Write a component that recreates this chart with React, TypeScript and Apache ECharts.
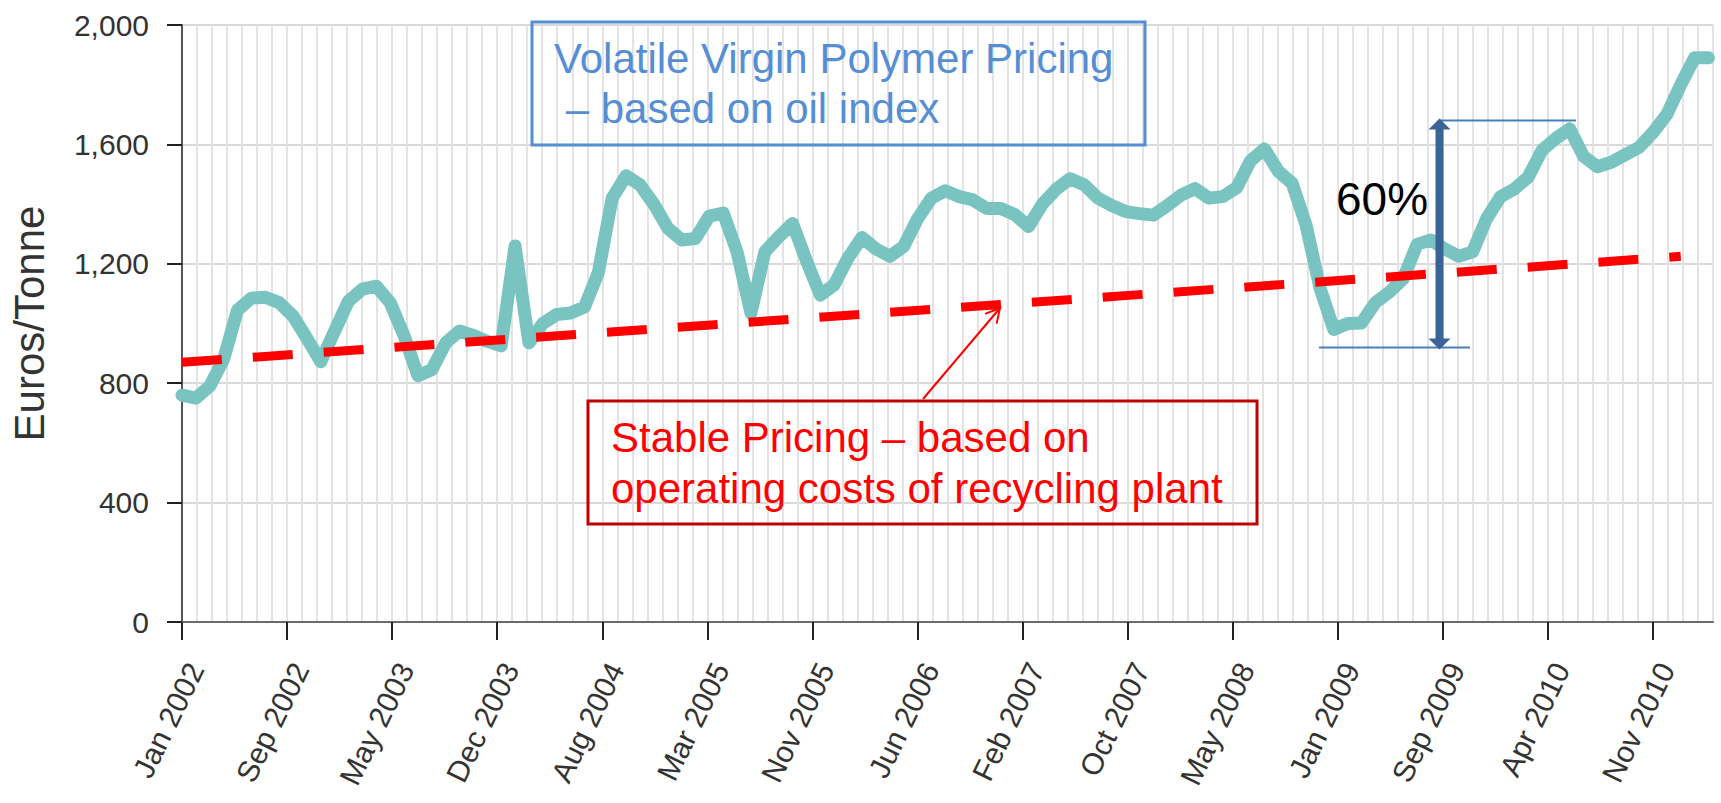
import React, { useEffect, useRef } from "react";
import * as echarts from "echarts";

// Tick labels on the time axis (equally spaced, Jan 2002 -> Nov 2010)
const tickLabels = [
  "Jan 2002", "Sep 2002", "May 2003", "Dec 2003", "Aug 2004", "Mar 2005", "Nov 2005",
  "Jun 2006", "Feb 2007", "Oct 2007", "May 2008", "Jan 2009", "Sep 2009", "Apr 2010", "Nov 2010",
];

// Monthly virgin polymer price (Euros/Tonne), month 0 = Jan 2002 ... month 110 = Mar 2011
const polymerPrice = [
  760, 750, 790, 880, 1045, 1085, 1088, 1070, 1025, 950,
  872, 975, 1075, 1115, 1125, 1070, 960, 825, 845, 935,
  975, 960, 940, 925, 1260, 935, 1000, 1030, 1035, 1055,
  1170, 1420, 1495, 1465, 1400, 1320, 1280, 1285, 1360, 1370,
  1240, 1035, 1240, 1290, 1335, 1210, 1095, 1130, 1220, 1288,
  1250, 1225, 1258, 1350, 1420, 1445, 1425, 1414, 1385, 1385,
  1365, 1325, 1400, 1450, 1485, 1465, 1420, 1395, 1375, 1368,
  1363, 1395, 1430, 1452, 1420, 1425, 1455, 1545, 1585, 1510,
  1470, 1330, 1120, 980, 1000, 1002, 1070, 1105, 1150, 1265,
  1280, 1250, 1225, 1240, 1350, 1424, 1450, 1490, 1580, 1620,
  1652, 1560, 1525, 1540, 1565, 1590, 1640, 1700, 1800, 1890,
  1890,
];

// Stable pricing trend (recycling plant operating costs)
const stableMonths = [0, 108];
const stableValues = [870, 1225];

// 60% swing annotation levels (Euros/Tonne)
const swingLow = 920;
const swingHigh = 1680;

const spanMonths = 106; // Jan 2002 -> Nov 2010
const majorStep = spanMonths / (tickLabels.length - 1);
const minorStep = majorStep / 7;
const xMax = minorStep * 102;

const FONT = '"Liberation Sans", Arial, Helvetica, sans-serif';

export default function App() {
  const ref = useRef<HTMLDivElement>(null);

  useEffect(() => {
    if (!ref.current) return;
    const chart = echarts.init(ref.current, undefined, { renderer: "svg" });

    const priceData = polymerPrice.map((v, i) => [i, v]);
    const stableData = stableMonths.map((m, i) => [m, stableValues[i]]);
    const majorValues = tickLabels.map((_, i) => i * majorStep);

    const option: any = {
      animation: false,
      backgroundColor: "#ffffff",
      grid: { left: 182, right: 8, top: 25, bottom: 181, containLabel: false },
      xAxis: [
        {
          type: "value",
          min: 0,
          max: xMax,
          interval: minorStep,
          axisLine: { show: true, lineStyle: { color: "#6b6b6b", width: 2 } },
          axisTick: { show: false },
          axisLabel: { show: false },
          splitLine: { show: true, lineStyle: { color: "#e3e3e3", width: 2 } },
        },
        {
          type: "value",
          min: 0,
          max: xMax,
          position: "bottom",
          axisLine: { show: false },
          axisTick: {
            show: true,
            customValues: majorValues,
            length: 18,
            lineStyle: { color: "#222", width: 2 },
          },
          axisLabel: {
            show: true,
            customValues: majorValues,
            rotate: 64,
            margin: 36,
            align: "right",
            verticalAlign: "top",
            fontSize: 30,
            fontFamily: FONT,
            color: "#333",
            formatter: (v: number) => tickLabels[Math.round(v / majorStep)] ?? "",
          },
          splitLine: { show: false },
        },
      ],
      yAxis: {
        type: "value",
        min: 0,
        max: 2000,
        interval: 400,
        name: "Euros/Tonne",
        nameLocation: "middle",
        nameGap: 132,
        nameTextStyle: { fontSize: 42, fontFamily: FONT, color: "#333" },
        axisLine: { show: true, lineStyle: { color: "#555", width: 2 } },
        axisTick: { show: true, length: 15, lineStyle: { color: "#222", width: 2 } },
        axisLabel: {
          margin: 33,
          fontSize: 30,
          fontFamily: FONT,
          color: "#333",
          formatter: (v: number) => v.toLocaleString("en-US"),
        },
        splitLine: { show: true, lineStyle: { color: "#d9d9d9", width: 2 } },
      },
      series: [
        {
          name: "Volatile Virgin Polymer Pricing",
          type: "line",
          xAxisIndex: 0,
          data: priceData,
          symbol: "none",
          lineStyle: { color: "#79c4c1", width: 13, join: "round", cap: "round" },
          z: 3,
        },
        {
          name: "Stable Pricing",
          type: "line",
          xAxisIndex: 0,
          data: stableData,
          symbol: "none",
          lineStyle: { color: "#ff0000", width: 9, type: [40, 31], cap: "butt" },
          z: 4,
        },
      ],
    };
    chart.setOption(option);

    // annotations
    const arrowX = 1439.5;
    const topY = chart.convertToPixel({ yAxisIndex: 0 }, swingHigh) as number;
    const botY = chart.convertToPixel({ yAxisIndex: 0 }, swingLow) as number;

    const tip = [1000, 308];
    const tail = [923, 399];
    const dx = tip[0] - tail[0];
    const dy = tip[1] - tail[1];
    const len = Math.sqrt(dx * dx + dy * dy);
    const bx = -dx / len;
    const by = -dy / len;
    const ang = (28 * Math.PI) / 180;
    const c = Math.cos(ang);
    const s = Math.sin(ang);
    const hl = 16;
    const h1 = [tip[0] + hl * (bx * c - by * s), tip[1] + hl * (bx * s + by * c)];
    const h2 = [tip[0] + hl * (bx * c + by * s), tip[1] + hl * (-bx * s + by * c)];

    chart.setOption({
      graphic: [
        {
          type: "rect",
          shape: { x: 532, y: 22, width: 613, height: 123 },
          style: { fill: "none", stroke: "#558ED5", lineWidth: 3 },
          z: 20,
        },
        {
          type: "text",
          x: 554,
          y: 58,
          style: { text: "Volatile Virgin Polymer Pricing", fill: "#558ED5", font: `42px ${FONT}`, verticalAlign: "middle" },
          z: 20,
        },
        {
          type: "text",
          x: 554,
          y: 108,
          style: { text: " – based on oil index", fill: "#558ED5", font: `42px ${FONT}`, verticalAlign: "middle" },
          z: 20,
        },
        {
          type: "rect",
          shape: { x: 588, y: 401, width: 669, height: 123 },
          style: { fill: "none", stroke: "#C00000", lineWidth: 3 },
          z: 20,
        },
        {
          type: "text",
          x: 611,
          y: 437,
          style: { text: "Stable Pricing – based on", fill: "#FF0000", font: `42px ${FONT}`, verticalAlign: "middle" },
          z: 20,
        },
        {
          type: "text",
          x: 611,
          y: 488,
          style: { text: "operating costs of recycling plant", fill: "#FF0000", font: `42px ${FONT}`, verticalAlign: "middle" },
          z: 20,
        },
        {
          type: "line",
          shape: { x1: tail[0], y1: tail[1], x2: tip[0], y2: tip[1] },
          style: { stroke: "#FF0000", lineWidth: 2 },
          z: 20,
        },
        {
          type: "polyline",
          shape: { points: [h1, tip, h2] },
          style: { stroke: "#FF0000", lineWidth: 2, fill: "none" },
          z: 20,
        },
        {
          type: "line",
          shape: { x1: arrowX, y1: topY, x2: 1576, y2: topY },
          style: { stroke: "#4A7EBB", lineWidth: 2 },
          z: 20,
        },
        {
          type: "line",
          shape: { x1: 1319, y1: botY, x2: 1470, y2: botY },
          style: { stroke: "#4A7EBB", lineWidth: 2 },
          z: 20,
        },
        {
          type: "line",
          shape: { x1: arrowX, y1: topY + 8, x2: arrowX, y2: botY - 8 },
          style: { stroke: "#3A6396", lineWidth: 8 },
          z: 21,
        },
        {
          type: "polygon",
          shape: { points: [[arrowX, topY - 2], [arrowX + 11, topY + 9], [arrowX - 11, topY + 9]] },
          style: { fill: "#3A6396" },
          z: 21,
        },
        {
          type: "polygon",
          shape: { points: [[arrowX, botY + 2], [arrowX + 11, botY - 9], [arrowX - 11, botY - 9]] },
          style: { fill: "#3A6396" },
          z: 21,
        },
        {
          type: "text",
          x: 1336,
          y: 199,
          style: { text: "60%", fill: "#000000", font: `46px ${FONT}`, verticalAlign: "middle" },
          z: 21,
        },
      ],
    });

    return () => chart.dispose();
  }, []);

  return (
    <div
      ref={ref}
      style={{ position: "fixed", left: 0, top: 0, width: "1721px", height: "803px", background: "#fff" }}
    />
  );
}
